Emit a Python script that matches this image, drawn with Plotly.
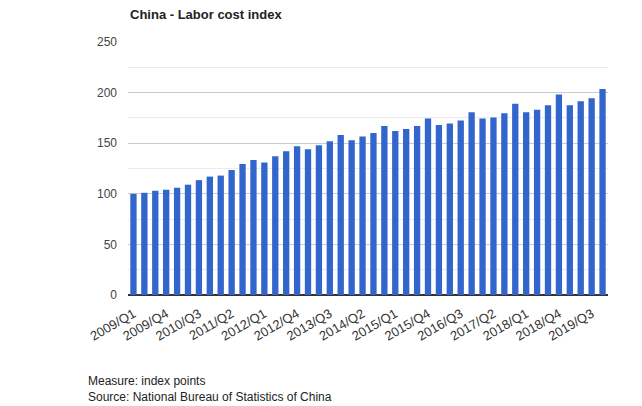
import plotly.graph_objects as go

# quarters 2009/Q1 .. 2019/Q4
quarters = [f"{y}/Q{q}" for y in range(2009, 2020) for q in range(1, 5)]
labor_cost = [100, 101, 103, 104, 106, 109, 113.5, 117, 118, 123.5, 129.5, 133.5,
              131, 137, 142, 147, 144, 148, 152, 158, 153, 156.5, 160, 167,
              162, 164, 167, 174.5, 168, 169.5, 172.5, 180.5, 174.5, 175.5, 179.5, 189,
              180.5, 183, 187.5, 198, 187.5, 191.5, 194.5, 203.5]
tick_labels = quarters[::3]

# page body adds an 8px offset, so positions below are shifted by -8
fig = go.Figure()
fig.add_trace(go.Bar(x=quarters, y=labor_cost, marker_color="#3366cc",
                     marker_line_width=0))

fig.update_layout(
    width=642, height=406,
    margin=dict(l=120, r=42, t=34, b=119),
    plot_bgcolor="white", paper_bgcolor="white",
    font=dict(family="Liberation Sans, Arial, sans-serif", size=12, color="#444"),
    title=dict(text="<b>China - Labor cost index</b>", x=122 / 642, xanchor="left",
               y=1 - 6 / 406, yanchor="middle",
               font=dict(size=13, color="#222")),
    bargap=0.42,
    showlegend=False,
)
fig.update_xaxes(tickmode="array", tickvals=tick_labels, ticktext=tick_labels,
                 tickangle=-30, showgrid=False, ticks="", showline=False,
                 tickfont=dict(size=13, color="#333"), ticklabelstandoff=8,
                 automargin=False)
fig.update_yaxes(range=[0, 250], dtick=50, gridcolor="#cccccc", gridwidth=1,
                 minor=dict(dtick=25, showgrid=True, gridcolor="#ebebeb"),
                 zeroline=True, zerolinecolor="#333", zerolinewidth=1.5,
                 ticks="", ticklabelstandoff=10, automargin=False)

fig.add_annotation(text="Measure: index points<br>Source: National Bureau of Statistics of China",
                   xref="paper", yref="paper", x=(78 - 120) / 480, y=(287 - 381) / 253,
                   xanchor="left", yanchor="middle", align="left", showarrow=False,
                   font=dict(size=12, color="#222"))

fig.write_html("out.html")
